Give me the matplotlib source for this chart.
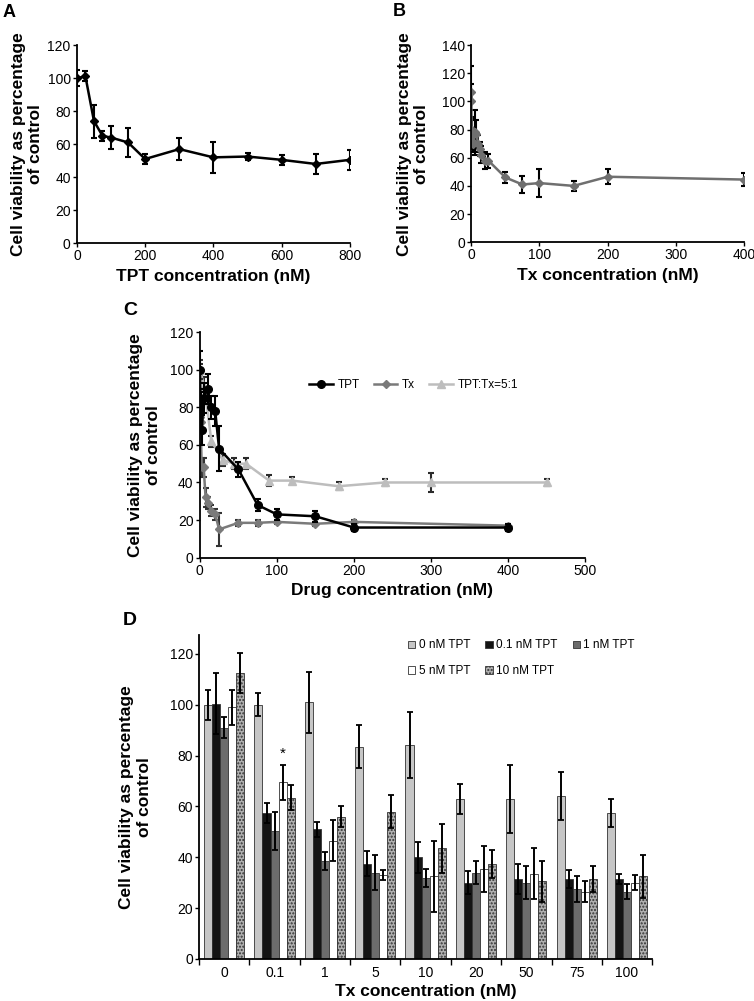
import matplotlib
matplotlib.use("Agg")
import matplotlib.pyplot as plt
import numpy as np

plt.rcParams['font.family'] = ['Liberation Sans', 'DejaVu Sans']

# ---- panel A: TPT alone ----
tpt_conc = [0, 25, 50, 75, 100, 150, 200, 300, 400, 500, 600, 700, 800]
tpt_via = [100, 101, 74, 65, 64, 61, 51, 57, 52, 52.5, 50.5, 48, 50.5]
tpt_err = [5, 3, 10, 3, 7, 9, 3, 6.5, 9.5, 2, 3, 6, 6]

# ---- panel B: Tx alone ----
tx_conc = [0, 0.1, 0.5, 1, 2.5, 5, 7.5, 10, 12.5, 15, 20, 25, 50, 75, 100, 150, 200, 400]
tx_via = [100, 107, 80, 72, 70, 78, 77, 70, 66, 62, 58, 58, 46, 41, 42, 40, 46.5, 44.5]
tx_err = [12, 18, 8, 6, 6, 16, 10, 6, 5, 6, 6, 5, 4, 6, 10, 3.5, 5.5, 4.5]

# ---- panel C: combination ----
c_tpt_x = [0, 1, 2.5, 5, 10, 15, 20, 25, 50, 75, 100, 150, 200, 400]
c_tpt_y = [100, 83, 68, 85, 90, 80, 78, 58, 47, 28, 23, 22, 16, 16]
c_tpt_e = [10, 5, 8, 8, 8, 6, 8, 12, 4, 3, 3, 3, 2, 2]
c_tx_x = [0, 0.5, 1, 2.5, 5, 7.5, 10, 15, 20, 25, 50, 75, 100, 150, 200, 400]
c_tx_y = [100, 75, 72, 48, 48, 32, 29, 25, 23, 15, 18.5, 18.5, 19, 18, 19, 17]
c_tx_e = [5, 5, 5, 5, 5, 5, 3, 3, 3, 9, 1.5, 1.5, 1, 1, 1, 1]
c_mix_x = [0, 6, 15, 30, 45, 60, 90, 120, 180, 240, 300, 450]
c_mix_y = [100, 91, 62, 52, 50, 50, 41, 41, 38, 40, 40, 40]
c_mix_e = [3, 5, 3, 3, 3, 3, 3, 2, 2, 2, 5, 2]

# ---- panel D: bars ----
d_cats = ['0', '0.1', '1', '5', '10', '20', '50', '75', '100']
d_series = ['0 nM TPT', '0.1 nM TPT', '1 nM TPT', '5 nM TPT', '10 nM TPT']
d_vals = [
    [100, 100, 101, 83.5, 84, 63, 63, 64, 57.5],
    [100.5, 57.5, 51, 37.5, 40, 30, 31.5, 31.5, 31.5],
    [91, 50.5, 38.5, 34, 32, 34, 30, 27.5, 26.5],
    [99, 69.5, 46.5, 33, 32.5, 35.5, 33.5, 26.5, 30],
    [112.5, 63.5, 56, 58, 43.5, 37.5, 30.5, 31.5, 32.5],
]
d_errs = [
    [6, 4.5, 12, 8.5, 13, 6, 13.5, 9.5, 5.5],
    [12, 4, 3, 5, 6, 4.5, 6, 3.5, 2],
    [4, 7.5, 3.5, 7, 3.5, 4.5, 6.5, 5, 3],
    [7, 7, 8, 2, 14, 9, 10, 4, 3],
    [8, 5, 4, 6.5, 9.5, 5.5, 8, 5, 8.5],
]

ylab = 'Cell viability as percentage\nof control'

fig = plt.figure(figsize=(7.54, 10.01), dpi=100)


def style(ax):
    for s in ['top', 'right']:
        ax.spines[s].set_visible(False)
    for s in ['left', 'bottom']:
        ax.spines[s].set_linewidth(1.3)
    ax.tick_params(labelsize=10, length=3, width=1, pad=1.5)


# A
axA = fig.add_axes([0.102, 0.757, 0.362, 0.198])
axA.errorbar(tpt_conc, tpt_via, yerr=tpt_err, color='black', marker='D', ms=4.5,
             lw=1.8, capsize=2.5, elinewidth=1.5, capthick=1.5)
axA.set_xlim(0, 800)
axA.set_ylim(0, 120)
axA.set_xticks(range(0, 801, 200))
axA.set_yticks(range(0, 121, 20))
axA.set_xlabel('TPT concentration (nM)', fontsize=12.5, fontweight='bold', labelpad=4)
axA.set_ylabel(ylab, fontsize=12.5, fontweight='bold', labelpad=3)
style(axA)

# B
axB = fig.add_axes([0.625, 0.758, 0.362, 0.197])
axB.errorbar(tx_conc, tx_via, yerr=tx_err, color='#6f6f6f', ecolor='black', marker='D',
             ms=4.5, lw=1.8, capsize=2.5, elinewidth=1.5, capthick=1.5)
axB.set_xlim(0, 400)
axB.set_ylim(0, 140)
axB.set_xticks(range(0, 401, 100))
axB.set_yticks(range(0, 141, 20))
axB.set_xlabel('Tx concentration (nM)', fontsize=12.5, fontweight='bold', labelpad=4)
axB.set_ylabel(ylab, fontsize=12.5, fontweight='bold', labelpad=9)
style(axB)

# C
axC = fig.add_axes([0.265, 0.443, 0.511, 0.225])
axC.errorbar(c_tpt_x, c_tpt_y, yerr=c_tpt_e, color='black', marker='o', ms=5.5,
             lw=1.8, capsize=2, elinewidth=1.5, capthick=1.5, label='TPT', zorder=3)
axC.errorbar(c_tx_x, c_tx_y, yerr=c_tx_e, color='#7a7a7a', ecolor='#333333', marker='D', ms=4.5,
             lw=1.8, capsize=2, elinewidth=1.5, capthick=1.5, label='Tx', zorder=2)
axC.errorbar(c_mix_x, c_mix_y, yerr=c_mix_e, color='#bdbdbd', ecolor='#2a2a2a', marker='^', ms=6,
             lw=1.8, capsize=2, elinewidth=1.5, capthick=1.5, label='TPT:Tx=5:1', zorder=1)
axC.set_xlim(0, 500)
axC.set_ylim(0, 120)
axC.set_xticks(range(0, 501, 100))
axC.set_yticks(range(0, 121, 20))
axC.set_xlabel('Drug concentration (nM)', fontsize=12.5, fontweight='bold', labelpad=4)
axC.set_ylabel(ylab, fontsize=12.5, fontweight='bold', labelpad=7)
style(axC)
h, l = axC.get_legend_handles_labels()
axC.legend([x[0] for x in h], l, ncol=3, frameon=False, fontsize=8.5, loc='center',
           bbox_to_anchor=(0.555, 0.765), handlelength=2, columnspacing=1.2, handletextpad=0.4)

# D
axD = fig.add_axes([0.264, 0.042, 0.601, 0.324])
w = 0.16
x = np.arange(len(d_cats))
faces = ['#c6c6c6', '#141414', '#6c6c6c', 'white', '#b0b0b0']
hatches = [None, None, None, None, '.....']
bars = []
for i in range(5):
    b = axD.bar(x + (i - 2) * w, d_vals[i], w, yerr=d_errs[i], color=faces[i],
                edgecolor='#333333', linewidth=0.6, hatch=hatches[i],
                error_kw=dict(ecolor='black', elinewidth=1.4, capsize=2, capthick=1.3),
                label=d_series[i])
    bars.append(b)
axD.text(x[1] + 1 * w, d_vals[3][1] + d_errs[3][1] + 1.5, '*', ha='center', va='bottom', fontsize=11)
axD.set_xlim(-0.5, 8.5)
axD.set_ylim(0, 127.6)
axD.set_yticks(range(0, 121, 20))
axD.set_xticks(x)
axD.set_xticklabels(d_cats)
axD.set_xticks(np.arange(-0.5, 9, 1), minor=True)
axD.set_xlabel('Tx concentration (nM)', fontsize=12.5, fontweight='bold', labelpad=3)
axD.set_ylabel(ylab, fontsize=12.5, fontweight='bold', labelpad=13)
style(axD)
axD.tick_params(axis='x', which='major', length=0, pad=5)
axD.tick_params(axis='x', which='minor', length=4, width=1)
order = [0, 3, 1, 4, 2]
axD.legend([bars[i] for i in order], [d_series[i] for i in order], ncol=3, frameon=False,
           fontsize=8.5, loc='upper left', bbox_to_anchor=(0.461, 0.985), borderpad=0,
           borderaxespad=0, handlelength=0.6, handleheight=0.6, handletextpad=0.3,
           columnspacing=1.3, labelspacing=1.15)

# panel letters
fig.text(0.003, 0.996, 'A', fontsize=13, fontweight='bold', va='top')
fig.text(0.521, 0.997, 'B', fontsize=13, fontweight='bold', va='top')
fig.text(0.163, 0.698, 'C', fontsize=14, fontweight='bold', va='top')
fig.text(0.163, 0.389, 'D', fontsize=14, fontweight='bold', va='top')

fig.savefig('out.png', dpi=100)
